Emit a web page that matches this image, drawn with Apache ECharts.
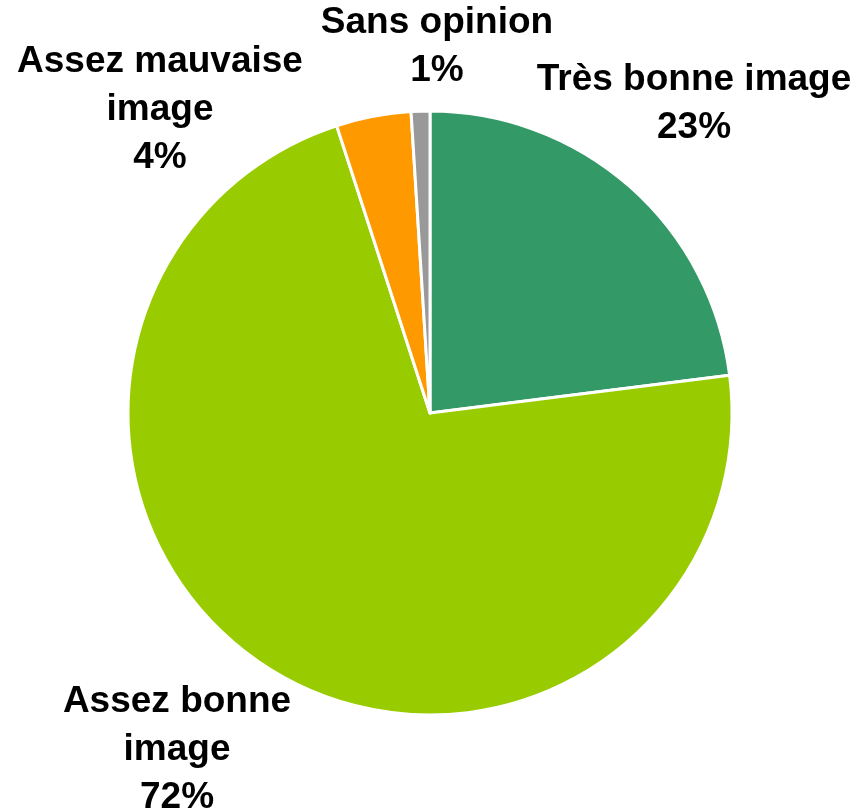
<!DOCTYPE html>
<html>
<head>
<meta charset="utf-8">
<script src="https://cdn.jsdelivr.net/npm/echarts@6/dist/echarts.min.js"></script>
<style>html,body{margin:0;padding:0;background:#fff;}#c{width:857px;height:812px;}</style>
</head>
<body>
<div id="c"></div>
<script>
var categories = ['Très bonne image', 'Assez bonne image', 'Assez mauvaise image', 'Sans opinion'];
var values = [23, 72, 4, 1];
var labelTexts = ['Très bonne image', 'Assez bonne\nimage', 'Assez mauvaise\nimage', 'Sans opinion'];
var colors = ['#339966', '#99CC00', '#FF9900', '#999999'];

// label anchor points (centre of each label block), layout only
var labelAnchors = [[694, 104], [177, 750], [160, 110], [437, 47]];

var chart = echarts.init(document.getElementById('c'));
chart.setOption({
  animation: false,
  series: [{
    type: 'pie',
    center: [430, 413],
    radius: 302,
    startAngle: 90,
    clockwise: true,
    data: categories.map(function (c, i) {
      return { name: c, value: values[i], itemStyle: { color: colors[i] } };
    }),
    itemStyle: { borderColor: '#ffffff', borderWidth: 3 },
    label: {
      show: true,
      position: 'outside',
      overflow: 'none',
      formatter: function (p) { return labelTexts[p.dataIndex] + '\n' + p.value + '%'; },
      fontFamily: 'Liberation Sans, Arial, sans-serif',
      fontWeight: 'bold',
      fontSize: 37,
      lineHeight: 48,
      color: '#000',
      align: 'center'
    },
    labelLine: { show: false },
    labelLayout: function (p) {
      var a = labelAnchors[p.dataIndex];
      return { x: a[0], y: a[1], align: 'center', verticalAlign: 'middle', hideOverlap: false, moveOverlap: false };
    },
    emphasis: { disabled: true }
  }]
});
</script>
</body>
</html>
